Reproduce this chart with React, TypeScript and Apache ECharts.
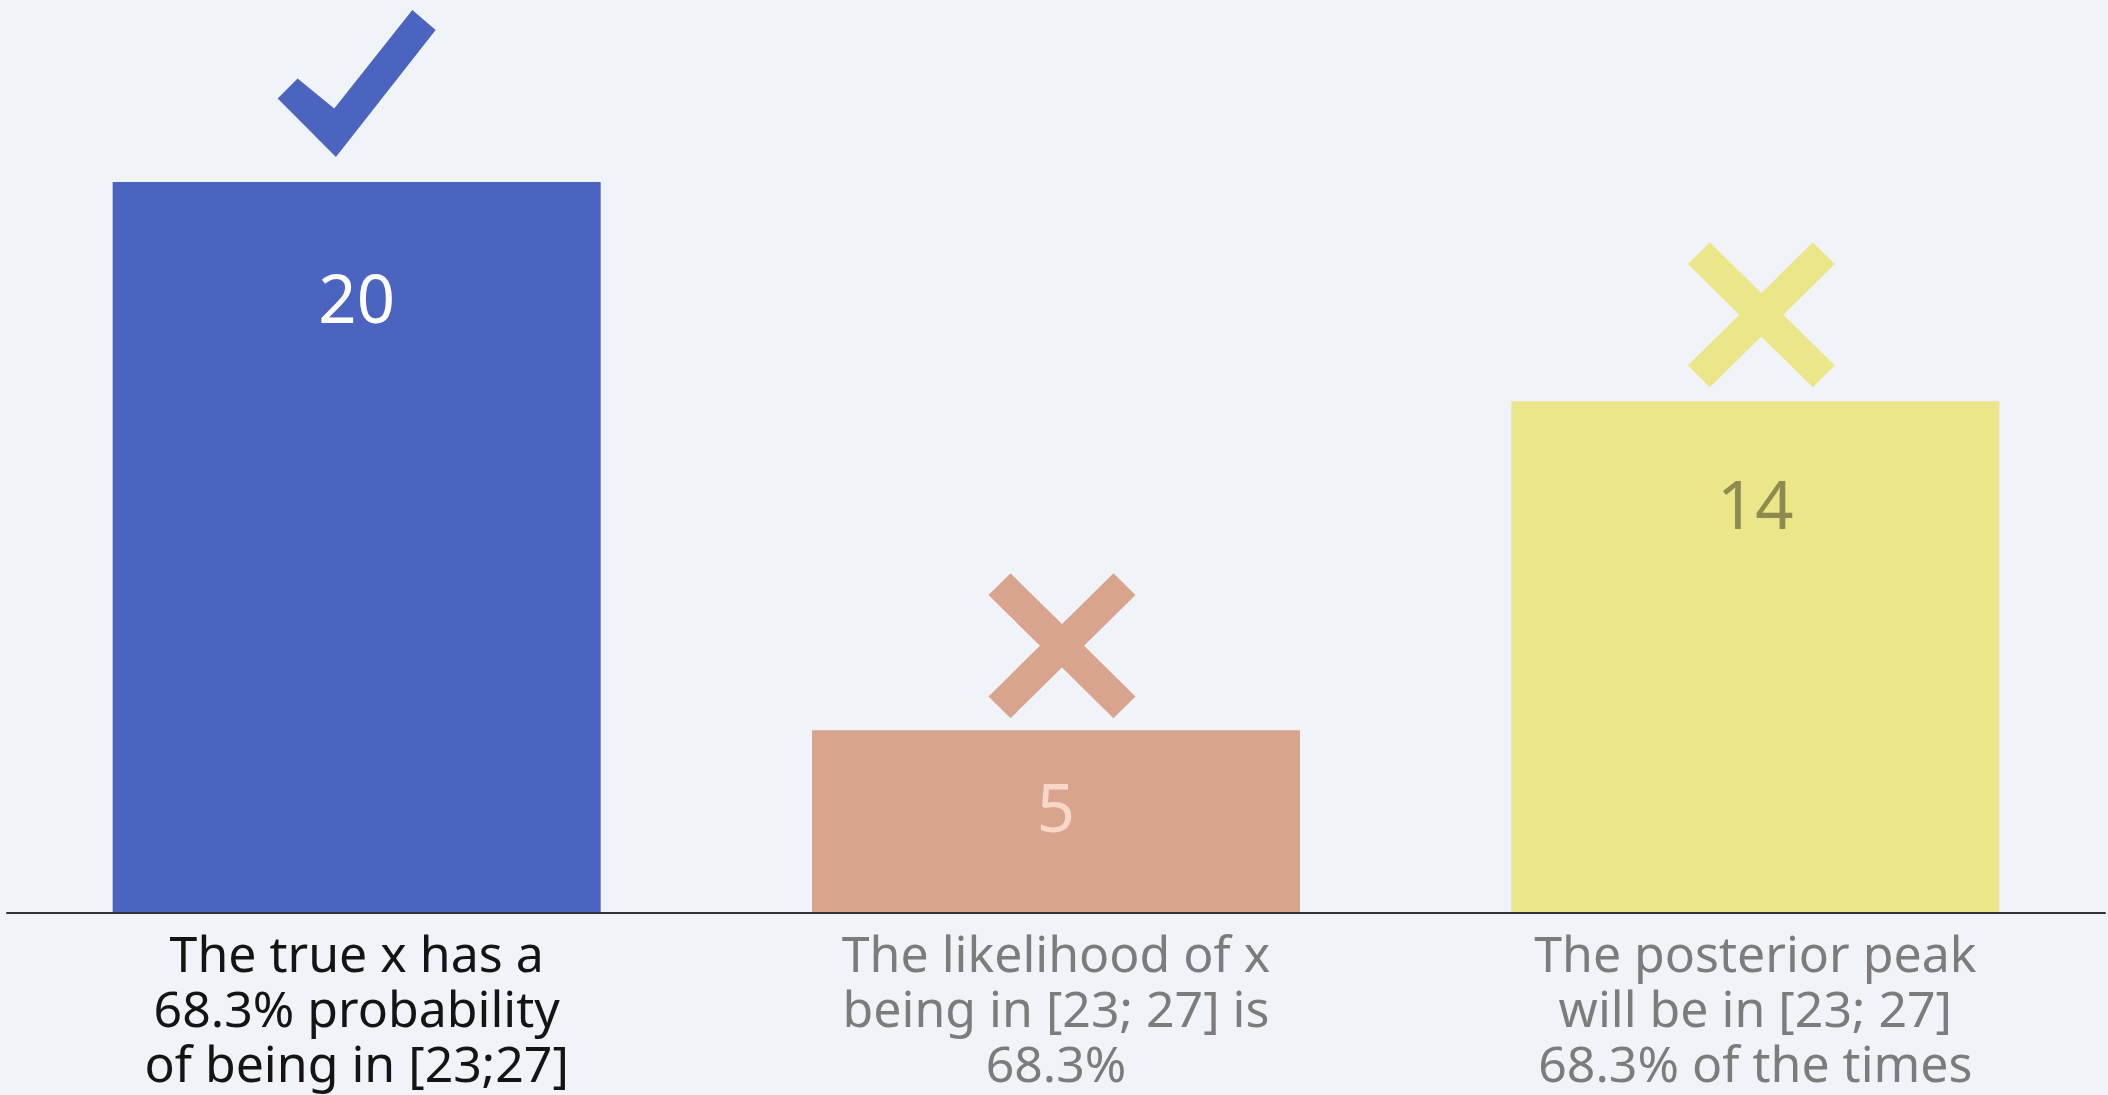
import React, { useEffect, useRef } from "react";
import * as echarts from "echarts";

// ---- data ----
const categories: string[] = [
  "The true x has a\n68.3% probability\nof being in [23;27]",
  "The likelihood of x\nbeing in [23; 27] is\n68.3%",
  "The posterior peak\nwill be in [23; 27]\n68.3% of the times",
];
const values: number[] = [20, 5, 14];
const verdicts: string[] = ["check", "cross", "cross"];

// ---- styles ----
const barColors = ["#4A64C0", "#D9A48E", "#EBE68A"];
const valueLabelColors = ["#FFFFFF", "#F7D8C8", "#8E8B4E"];
const categoryLabelColors = ["#141414", "#7C7C7C", "#7C7C7C"];
const valueLabelCenterFromTop = [115, 76, 102];
const markOffsets: [number, number][] = [
  [0, -98.5],
  [6, -84.5],
  [6, -86.5],
];
const BG = "#F0F4F9";
const FONT = "'Noto Sans', sans-serif";

const CHECK_PATH =
  "path://M20,68.3 L56.7,98.3 L135,0 L158.4,20 L58.4,146.7 L0,88.3 Z";
const CROSS_PATH =
  "path://M15,0 L50,35 L85,0 L100,15 L65,50 L100,85 L85,100 L50,65 L15,100 L0,85 L35,50 L0,15 Z";

export default function App() {
  const ref = useRef<HTMLDivElement>(null);

  useEffect(() => {
    if (!ref.current) return;
    const chart = echarts.init(ref.current, undefined, { renderer: "svg" });

    const option: any = {
      animation: false,
      backgroundColor: BG,
      grid: { left: 7, right: 3, top: 182, bottom: 182, containLabel: false },
      xAxis: {
        type: "category",
        z: 5,
        data: categories.map((c, i) => ({
          value: c,
          textStyle: { color: categoryLabelColors[i] },
        })),
        axisTick: { show: false },
        axisLine: { show: true, lineStyle: { color: "#333333", width: 2 } },
        axisLabel: {
          interval: 0,
          margin: 12,
          fontFamily: FONT,
          fontSize: 50,
          lineHeight: 55,
          align: "center",
        },
      },
      yAxis: {
        type: "value",
        min: 0,
        max: 20,
        show: false,
        splitLine: { show: false },
      },
      series: [
        {
          type: "bar",
          barWidth: 488,
          z: 2,
          data: values.map((v, i) => ({
            value: v,
            itemStyle: { color: barColors[i] },
            label: {
              show: true,
              position: ["50%", valueLabelCenterFromTop[i]],
              align: "center",
              verticalAlign: "middle",
              color: valueLabelColors[i],
              fontFamily: FONT,
              fontSize: 67,
            },
          })),
        },
        {
          type: "scatter",
          z: 3,
          silent: true,
          data: values.map((v, i) => ({
            value: v,
            symbol: verdicts[i] === "check" ? CHECK_PATH : CROSS_PATH,
            symbolSize: verdicts[i] === "check" ? [158, 147] : [147, 145],
            symbolOffset: markOffsets[i],
            itemStyle: { color: barColors[i], opacity: 1 },
          })),
        },
      ],
    };

    chart.setOption(option);
    return () => chart.dispose();
  }, []);

  return (
    <div
      ref={ref}
      style={{
        position: "fixed",
        left: 0,
        top: 0,
        width: 2108,
        height: 1095,
        background: BG,
      }}
    />
  );
}
